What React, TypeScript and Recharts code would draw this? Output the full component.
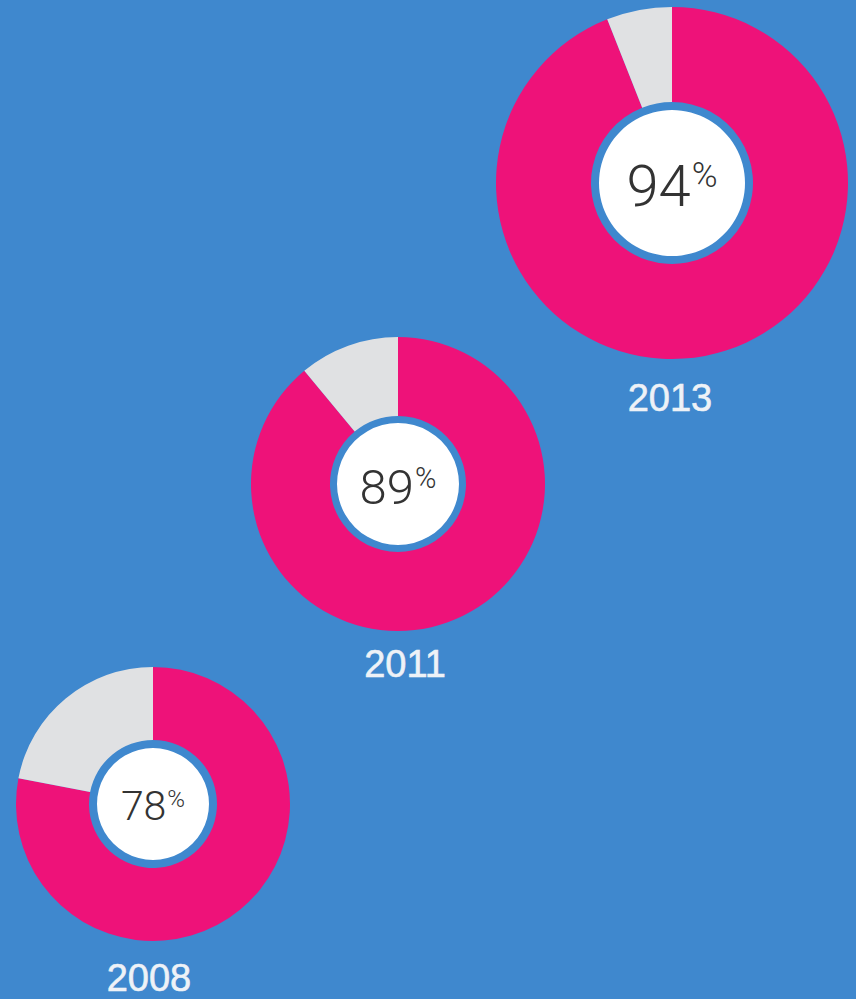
import * as React from "react"
import { PieChart, Pie, Cell, Label } from "recharts"

// survey results by year
const years = ["2013", "2011", "2008"]
const shares = [94, 89, 78]

const PINK = "#EE1279"
const GREY = "#E0E1E3"
const BLUE = "#3F88CE"

// where each donut sits on the page
const layout = [
  { cx: 672, cy: 183, outer: 176, ring: 81, disc: 73, num: 58, pct: 35, rise: 19, yearX: 670, yearY: 411 },
  { cx: 398, cy: 484, outer: 147, ring: 68, disc: 61, num: 49, pct: 29, rise: 16, yearX: 405, yearY: 677 },
  { cx: 153, cy: 804, outer: 137, ring: 64, disc: 56, num: 41, pct: 24, rise: 13, yearX: 149, yearY: 991 },
]

const yearFont = "'Liberation Sans', Arial, sans-serif"
const numFont = "Roboto, 'Liberation Sans', sans-serif"

export default function App() {
  return (
    <div style={{ position: "absolute", left: 0, top: 0, width: 856, height: 999, background: BLUE }}>
      <PieChart width={856} height={999} margin={{ top: 0, right: 0, bottom: 0, left: 0 }}>
        {years.map((year, i) => {
          const l = layout[i]
          const data = [
            { name: "yes", value: shares[i] },
            { name: "no", value: 100 - shares[i] },
          ]
          return (
            <Pie
              key={"ring" + year}
              data={data}
              dataKey="value"
              cx={l.cx}
              cy={l.cy}
              innerRadius={l.ring}
              outerRadius={l.outer}
              startAngle={90}
              endAngle={-270}
              stroke="none"
              isAnimationActive={false}
            >
              <Cell fill={PINK} />
              <Cell fill={GREY} />
              <Label
                position="center"
                content={() => (
                  <text
                    x={l.yearX}
                    y={l.yearY}
                    textAnchor="middle"
                    fontFamily={yearFont}
                    fontSize={38}
                    fill="#EEF2F7"
                    stroke="#EEF2F7"
                    strokeWidth={0.6}
                  >
                    {year}
                  </text>
                )}
              />
            </Pie>
          )
        })}
        {years.map((year, i) => {
          const l = layout[i]
          return (
            <Pie
              key={"disc" + year}
              data={[{ name: year, value: 1 }]}
              dataKey="value"
              cx={l.cx}
              cy={l.cy}
              innerRadius={0}
              outerRadius={l.disc}
              stroke="none"
              fill="#FFFFFF"
              isAnimationActive={false}
            >
              <Label
                position="center"
                content={() => (
                  <text
                    x={l.cx}
                    y={l.cy + l.num * 0.4}
                    textAnchor="middle"
                    fontFamily={numFont}
                    fontWeight={300}
                    fill="#333333"
                  >
                    <tspan fontSize={l.num}>{shares[i]}</tspan>
                    <tspan fontSize={l.pct} dx={1} dy={-l.rise}>%</tspan>
                  </text>
                )}
              />
            </Pie>
          )
        })}
      </PieChart>
    </div>
  )
}
